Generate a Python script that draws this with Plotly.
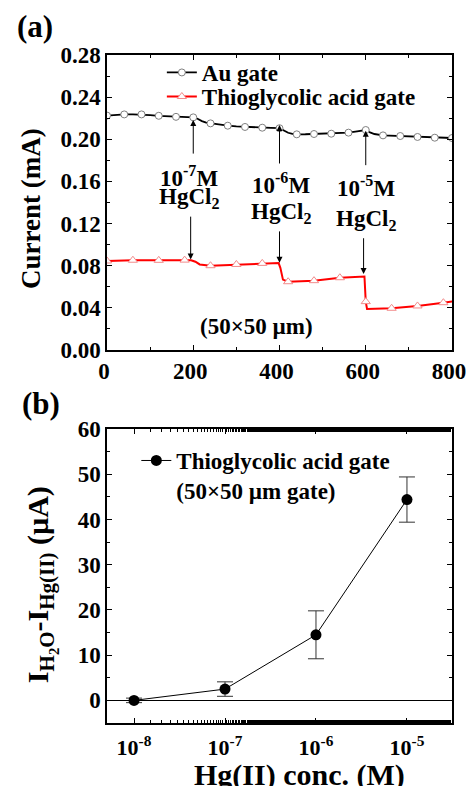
import plotly.graph_objects as go

# ---------------- data: panel (a) ----------------
au_time = [0, 20, 40, 60, 80, 100, 120, 140, 160, 180, 200, 210, 220, 230, 240, 260, 280, 300,
           320, 340, 360, 380, 400, 410, 420, 430, 440, 460, 480, 500, 520, 540, 560, 580, 600,
           610, 620, 640, 660, 680, 700, 720, 740, 760, 780, 800]
au_current = [0.2225, 0.2234, 0.2236, 0.2237, 0.2236, 0.2230, 0.2223, 0.2218, 0.2213, 0.2210,
              0.2208, 0.2195, 0.2172, 0.2158, 0.2151, 0.2138, 0.2129, 0.2122, 0.2117, 0.2113,
              0.2110, 0.2108, 0.2105, 0.2080, 0.2062, 0.2052, 0.2047, 0.2048, 0.2050, 0.2052,
              0.2053, 0.2058, 0.2063, 0.2075, 0.2088, 0.2065, 0.2050, 0.2037, 0.2034, 0.2031,
              0.2027, 0.2022, 0.2018, 0.2015, 0.2013, 0.2012]

tga_time = [0, 60, 120, 180, 195, 205, 215, 240, 300, 360, 398, 402, 408, 420, 480, 540, 597,
            600, 603, 660, 720, 780, 800]
tga_current = [0.0845, 0.0852, 0.0851, 0.0853, 0.0852, 0.0838, 0.0812, 0.0800, 0.0812, 0.0822,
               0.0825, 0.0780, 0.0668, 0.0648, 0.0658, 0.0686, 0.0697, 0.0459, 0.0390, 0.0396,
               0.0418, 0.0449, 0.0460]

# injection events
inj_time = [200, 400, 600]
inj_tga_time = [194, 400, 595]
inj_exp = ["-7", "-6", "-5"]
au_arrow_tip = [0.2183, 0.2135, 0.2081]
au_arrow_tail = [0.185, 0.1756, 0.174]
tga_arrow_tail = [0.128, 0.114, 0.1075]
tga_arrow_tip = [0.086, 0.0829, 0.0721]
label1_y = [0.1645, 0.1585, 0.1555]
label2_y = [0.1440, 0.1300, 0.1230]
label_x = [190, 404, 600]

# ---------------- data: panel (b) ----------------
conc = [1e-8, 1e-7, 1e-6, 1e-5]
delta_i = [0.0, 2.5, 14.5, 44.4]
delta_err = [0.5, 1.6, 5.3, 5.0]
conc_ticks = [1e-8, 1e-7, 1e-6, 1e-5]
conc_ticktext = ["10<sup>-8</sup>", "10<sup>-7</sup>", "10<sup>-6</sup>", "10<sup>-5</sup>"]

FONT = "Liberation Serif"

fig = go.Figure()

# Au gate
au_mk_t = [t for t in au_time if t % 40 == 0]
au_mk_i = [c for t, c in zip(au_time, au_current) if t % 40 == 0]
fig.add_trace(go.Scatter(x=au_time, y=au_current, mode="lines",
                         line=dict(color="black", width=1.8), showlegend=False,
                         xaxis="x", yaxis="y"))
fig.add_trace(go.Scatter(x=au_mk_t, y=au_mk_i, mode="markers",
                         marker=dict(symbol="circle", size=7, color="white",
                                     line=dict(color="#808080", width=1)),
                         showlegend=False, xaxis="x", yaxis="y"))
fig.add_trace(go.Scatter(x=[None], y=[None], mode="lines+markers", name="Au gate",
                         line=dict(color="black", width=1.8),
                         marker=dict(symbol="circle", size=7, color="white",
                                     line=dict(color="#808080", width=1)),
                         legend="legend", xaxis="x", yaxis="y"))

# Thioglycolic acid gate
tga_mk_t = [t for t in tga_time if t % 60 == 0]
tga_mk_i = [c for t, c in zip(tga_time, tga_current) if t % 60 == 0]
fig.add_trace(go.Scatter(x=tga_time, y=tga_current, mode="lines",
                         line=dict(color="#ff0000", width=2), showlegend=False,
                         xaxis="x", yaxis="y"))
fig.add_trace(go.Scatter(x=tga_mk_t, y=tga_mk_i, mode="markers",
                         marker=dict(symbol="triangle-up", size=8, color="white",
                                     line=dict(color="#f28b8b", width=1)),
                         showlegend=False, xaxis="x", yaxis="y"))
fig.add_trace(go.Scatter(x=[None], y=[None], mode="lines+markers",
                         name="Thioglycolic acid gate",
                         line=dict(color="#ff0000", width=2),
                         marker=dict(symbol="triangle-up", size=8, color="white",
                                     line=dict(color="#f28b8b", width=1)),
                         legend="legend3", xaxis="x", yaxis="y"))

# panel (b)
fig.add_trace(go.Scatter(x=conc, y=delta_i, mode="lines+markers",
                         name="Thioglycolic acid gate<br>(50×50 µm gate)",
                         line=dict(color="black", width=1),
                         marker=dict(symbol="circle", size=11, color="black"),
                         error_y=dict(type="data", array=delta_err, visible=True,
                                      color="#333333", thickness=1, width=8),
                         legend="legend2", xaxis="x2", yaxis="y2"))

tickfont = dict(family=FONT, size=23, color="black", weight="bold")
axis_common = dict(showline=True, linecolor="black", linewidth=1.5, mirror="allticks",
                   ticks="inside", tickcolor="black", ticklen=5, tickwidth=1,
                   showgrid=False, tickfont=tickfont, zeroline=False, automargin=False)
leg_font = dict(family=FONT, size=23, color="black", weight="bold")

fig.update_layout(
    width=468, height=786,
    margin=dict(l=107, r=16, t=55, b=63, autoexpand=False),
    paper_bgcolor="white", plot_bgcolor="white",
    font=dict(family=FONT, color="black"),
    xaxis=dict(domain=[0, 1], anchor="y", range=[0, 800], dtick=200,
               ticklabeloverflow="allow", ticklabelshift=-3,
               minor=dict(dtick=100, ticks="inside", ticklen=3, tickcolor="black"),
               **axis_common),
    yaxis=dict(domain=[0.5584, 1], anchor="x", range=[0, 0.28], dtick=0.04,
               tickformat=".2f",
               minor=dict(dtick=0.02, ticks="inside", ticklen=3, tickcolor="black"),
               **axis_common),
    xaxis2=dict(domain=[0, 1], anchor="y2", type="log", range=[-8.297, -4.505],
                tickvals=conc_ticks, ticktext=conc_ticktext, ticklabelstandoff=4,
                minor=dict(ticks="inside", ticklen=3, tickcolor="black"),
                **{**axis_common, "tickfont": dict(family=FONT, size=22, color="black",
                                                   weight="bold")}),
    yaxis2=dict(domain=[0, 0.44012], anchor="x2", range=[-5, 60], dtick=10,
                minor=dict(dtick=5, ticks="inside", ticklen=3, tickcolor="black"),
                **{**axis_common, "zeroline": True}, zerolinecolor="black",
                zerolinewidth=1),
    legend=dict(x=0.159, y=1.006, xanchor="left", yanchor="top",
                bgcolor="rgba(0,0,0,0)", font=leg_font),
    legend3=dict(x=0.159, y=0.970, xanchor="left", yanchor="top",
                 bgcolor="rgba(0,0,0,0)", font=leg_font),
    legend2=dict(x=0.085, y=0.4251, xanchor="left", yanchor="top", valign="top",
                 bgcolor="rgba(0,0,0,0)", font=leg_font),
)

ann = []
lab_font = dict(family=FONT, size=23, color="black", weight="bold")
for i in range(3):
    ann.append(dict(x=inj_time[i], y=au_arrow_tip[i], ax=inj_time[i], ay=au_arrow_tail[i],
                    xref="x", yref="y", axref="x", ayref="y", text="", showarrow=True,
                    arrowhead=2, arrowsize=1.2, arrowwidth=1, arrowcolor="black"))
    ann.append(dict(x=inj_tga_time[i], y=tga_arrow_tip[i], ax=inj_tga_time[i],
                    ay=tga_arrow_tail[i], xref="x", yref="y", axref="x", ayref="y",
                    text="", showarrow=True, arrowhead=2, arrowsize=1.2, arrowwidth=1,
                    arrowcolor="black"))
    ann.append(dict(x=label_x[i], y=label1_y[i], xref="x", yref="y",
                    text="10<sup>" + inj_exp[i] + "</sup>M", showarrow=False,
                    font=lab_font))
    ann.append(dict(x=label_x[i], y=label2_y[i], xref="x", yref="y",
                    text="HgCl<sub>2</sub>", showarrow=False, font=lab_font))

ann.append(dict(x=347, y=0.022, xref="x", yref="y", text="(50×50 µm)", showarrow=False,
                font=lab_font))
big = dict(family=FONT, size=31, color="black", weight="bold")
ann.append(dict(x=-0.210, y=1.042, xref="paper", yref="paper", text="(a)",
                xanchor="center", yanchor="middle", showarrow=False, font=big))
ann.append(dict(x=-0.191, y=0.479, xref="paper", yref="paper", text="(b)",
                xanchor="center", yanchor="middle", showarrow=False, font=big))
ann.append(dict(x=-0.2203, y=0.771, xref="paper", yref="paper", text="Current (mA)",
                xanchor="center", yanchor="middle", textangle=-90, showarrow=False,
                font=dict(family=FONT, size=27, color="black", weight="bold")))
ann.append(dict(x=-0.188, y=0.2066, xref="paper", yref="paper",
                text="I<sub>H<sub>2</sub>O</sub>-I<sub>Hg(II)</sub> (µA)",
                xanchor="center", yanchor="middle", textangle=-90, showarrow=False,
                font=dict(family=FONT, size=30, color="black", weight="bold")))
ann.append(dict(x=0.5594, y=-0.0778, xref="paper", yref="paper", text="Hg(II) conc. (M)",
                xanchor="center", yanchor="middle", showarrow=False,
                font=dict(family=FONT, size=30, color="black", weight="bold")))
fig.update_layout(annotations=ann)

# remove the default page margin so the figure fills the 468x786 window exactly
fig.write_html("out.html", config={"displayModeBar": False},
               post_script="document.body.style.margin='0';"
                           "document.body.style.overflow='hidden';")
